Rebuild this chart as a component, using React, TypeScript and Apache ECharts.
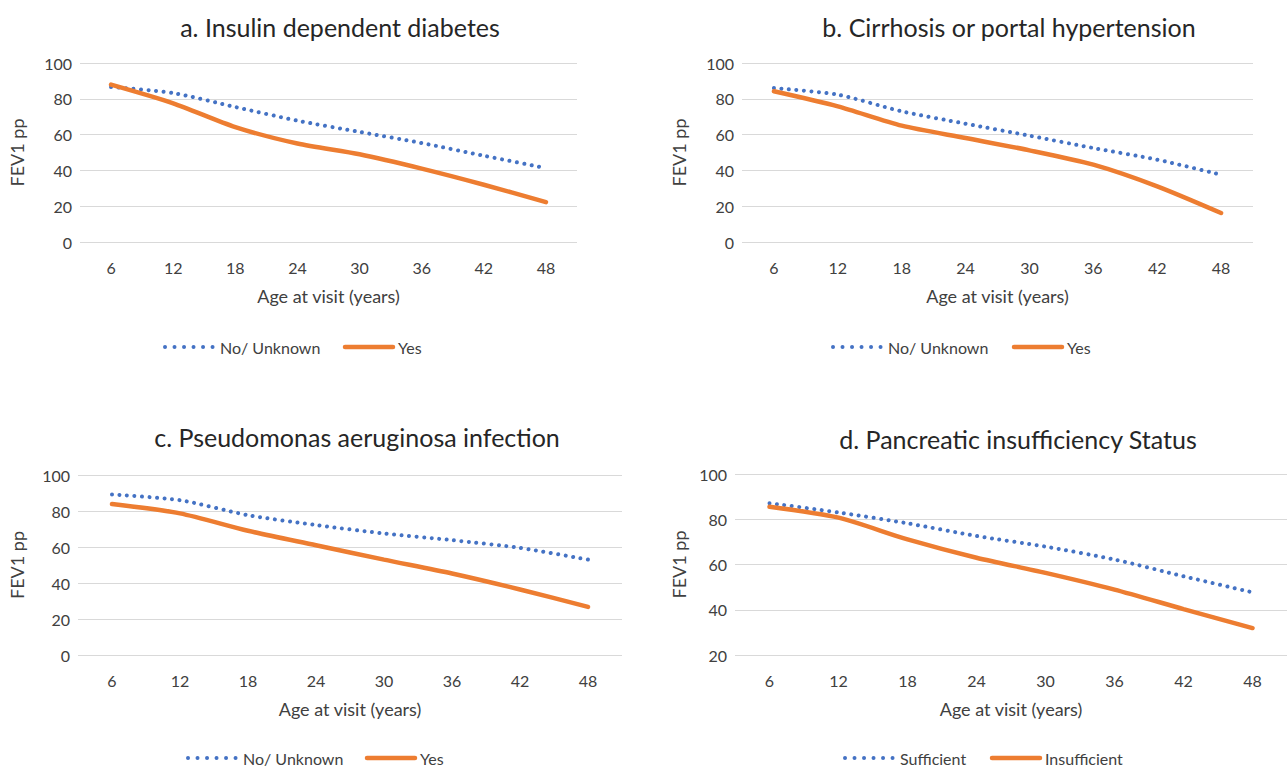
import React, { useEffect, useRef } from "react";
import * as echarts from "echarts";

const ages = ["6", "12", "18", "24", "30", "36", "42", "48"];

const titles = [
  "a. Insulin dependent diabetes",
  "b. Cirrhosis or portal hypertension",
  "c. Pseudomonas aeruginosa infection",
  "d. Pancreatic insufficiency Status",
];

const legendNames = [
  ["No/ Unknown", "Yes"],
  ["No/ Unknown", "Yes"],
  ["No/ Unknown", "Yes"],
  ["Sufficient", "Insufficient"],
];

// dotted series (No/ Unknown or Sufficient)
const aNo = [86.6, 83.2, 75.4, 67.8, 61.5, 55.3, 48.2, 41.3];
const bNo = [86, 82.3, 73, 66.1, 59.4, 52.5, 46, 37.6];
const cNo = [89.2, 86, 77.7, 72.2, 67.5, 63.8, 59.5, 53];
const dNo = [87.1, 83, 78.2, 72.6, 67.9, 62.2, 54.8, 47.7];
// solid series (Yes or Insufficient)
const aYes = [87.9, 77.5, 64.2, 55, 49, 41, 32, 22.3];
const bYes = [84.2, 75.8, 65, 58.1, 51.2, 43.2, 31.1, 16.2];
const cYes = [83.9, 78.7, 69, 61, 53, 45.3, 36.4, 26.7];
const dYes = [85.5, 80.7, 71.1, 63, 56.3, 48.9, 40.3, 31.9];

const yMins = [0, 0, 0, 20];
const yMaxs = [100, 100, 100, 100];

const dottedData = [aNo, bNo, cNo, dNo];
const solidData = [aYes, bYes, cYes, dYes];

const FONT = "Lato, 'Open Sans', sans-serif";
const BLUE = "#4472C4";
const ORANGE = "#ED7D31";
const TEXT = "#404040";

const grids = [
  { left: 80, top: 63, width: 497, height: 179 },
  { left: 742, top: 63, width: 511, height: 179 },
  { left: 78, top: 475, width: 544, height: 180 },
  { left: 735, top: 474, width: 568, height: 181 },
];
const titlePos = [
  { cx: 335, top: 9 },
  { cx: 1004, top: 9 },
  { cx: 352, top: 419 },
  { cx: 1013, top: 421 },
];
// legend layout: [dotted start, orange start, y]
const legendPos = [
  { d: 162, o: 343, y: 347 },
  { d: 830, o: 1012, y: 347 },
  { d: 185, o: 365, y: 758 },
  { d: 842, o: 990, y: 758 },
];
const yNameGap = [54, 54, 52, 47];

function legendGraphics() {
  const els: any[] = [];
  legendPos.forEach((p, i) => {
    els.push({
      type: "line",
      shape: { x1: p.d + 3, y1: p.y, x2: p.d + 52, y2: p.y },
      style: { stroke: BLUE, lineWidth: 4, lineDash: [0.01, 9.5], lineCap: "round" },
      silent: true,
    });
    els.push({
      type: "text",
      x: p.d + 58,
      y: p.y,
      style: { text: legendNames[i][0], font: `16px ${FONT}`, fill: TEXT, verticalAlign: "middle", align: "left" },
      silent: true,
    });
    els.push({
      type: "line",
      shape: { x1: p.o + 2, y1: p.y, x2: p.o + 50, y2: p.y },
      style: { stroke: ORANGE, lineWidth: 4.5, lineCap: "round" },
      silent: true,
    });
    els.push({
      type: "text",
      x: p.o + 55,
      y: p.y,
      style: { text: legendNames[i][1], font: `16px ${FONT}`, fill: TEXT, verticalAlign: "middle", align: "left" },
      silent: true,
    });
  });
  return els;
}

export default function App() {
  const ref = useRef<HTMLDivElement>(null);
  useEffect(() => {
    if (!ref.current) return;
    const chart = echarts.init(ref.current, undefined, { renderer: "svg" });
    const option: any = {
      animation: false,
      backgroundColor: "#ffffff",
      textStyle: { fontFamily: FONT },
      title: titles.map((t, i) => ({
        text: t,
        left: titlePos[i].cx,
        top: titlePos[i].top,
        textAlign: "center",
        textStyle: { fontFamily: FONT, fontSize: 25, fontWeight: "normal", color: "#262626" },
      })),
      grid: grids.map((g) => ({ ...g, containLabel: false })),
      xAxis: grids.map((_, i) => ({
        type: "category",
        gridIndex: i,
        data: ages,
        boundaryGap: true,
        axisLine: { show: false },
        axisTick: { show: false },
        axisLabel: { fontFamily: FONT, fontSize: 16, color: TEXT, margin: 17 },
        name: "Age at visit (years)",
        nameLocation: "middle",
        nameGap: 45,
        nameTextStyle: { fontFamily: FONT, fontSize: 18, color: TEXT },
      })),
      yAxis: grids.map((_, i) => ({
        type: "value",
        gridIndex: i,
        min: yMins[i],
        max: yMaxs[i],
        interval: 20,
        axisLine: { show: false },
        axisTick: { show: false },
        axisLabel: { fontFamily: FONT, fontSize: 16, color: TEXT, margin: 8 },
        splitLine: { lineStyle: { color: "#d9d9d9", width: 1 } },
        name: "FEV1 pp",
        nameLocation: "middle",
        nameGap: yNameGap[i],
        nameTextStyle: { fontFamily: FONT, fontSize: 18, color: TEXT },
      })),
      graphic: legendGraphics(),
      series: [
        ...dottedData.map((d, i) => ({
          name: legendNames[i][0],
          type: "line",
          xAxisIndex: i,
          yAxisIndex: i,
          data: d,
          symbol: "none",
          smooth: 0.25,
          color: BLUE,
          lineStyle: { color: BLUE, width: 4, type: [0.01, 7.5], cap: "round" },
        })),
        ...solidData.map((d, i) => ({
          name: legendNames[i][1],
          type: "line",
          xAxisIndex: i,
          yAxisIndex: i,
          data: d,
          symbol: "none",
          smooth: 0.25,
          color: ORANGE,
          lineStyle: { color: ORANGE, width: 4.5, type: "solid", cap: "round" },
        })),
      ],
    };
    chart.setOption(option);
    return () => chart.dispose();
  }, []);
  return (
    <div
      ref={ref}
      style={{ position: "fixed", left: 0, top: 0, width: 1287, height: 767, background: "#fff" }}
    />
  );
}
